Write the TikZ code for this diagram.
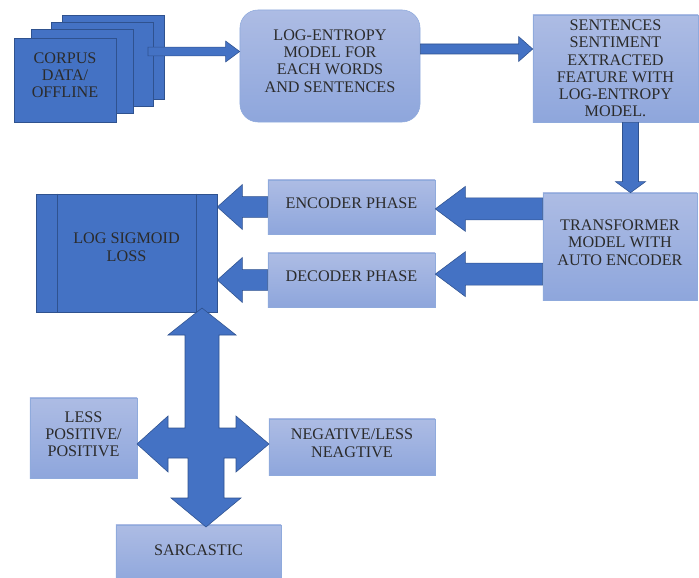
\documentclass[tikz,border=0pt]{standalone}
\usepackage{fontspec}
\setmainfont{Liberation Serif}
\usetikzlibrary{calc,positioning}

\definecolor{darkfill}{HTML}{4472C4}
\definecolor{darkedge}{HTML}{2F528F}
\definecolor{lighttop}{HTML}{ADBCE4}
\definecolor{lightbot}{HTML}{8EA6DC}
\definecolor{lightedge}{HTML}{8FAADC}
\definecolor{txtgray}{HTML}{2B2B2B}

\newcommand{\boxfont}{\fontsize{11.5}{12.3}\selectfont}

\tikzset{
  sheet/.style={draw=darkedge, fill=darkfill, minimum width=2.55cm, minimum height=2.1cm,
    text=txtgray, align=center, font=\boxfont},
  lightbox/.style={draw=lightedge, top color=lighttop, bottom color=lightbot,
    text=txtgray, align=center, font=\boxfont},
  lossbox/.style={draw=darkedge, fill=darkfill, text=txtgray, align=center, font=\boxfont},
  barrow/.style={draw=darkedge, fill=darkfill, line join=miter},
}

% block arrow: start, end, shaft half width, head half width, head length
\newcommand{\blockarrow}[5]{%
  \coordinate (ba-h) at ($(#2)!#5!(#1)$);
  \filldraw[barrow] ($(#1)!#3!90:(#2)$) -- ($(ba-h)!#3!90:(#2)$) -- ($(ba-h)!#4!90:(#2)$) -- (#2)
    -- ($(ba-h)!#4!-90:(#2)$) -- ($(ba-h)!#3!-90:(#2)$) -- ($(#1)!#3!-90:(#2)$) -- cycle;
}

\begin{document}
\begin{tikzpicture}[x=0.025cm, y=-0.025cm]
        \useasboundingbox (0,0) rectangle (699,578);

        % Corpus (stack of sheets)
        \node[sheet] (sheet3) at (113.5,57) {};
        \node[sheet] (sheet2) at (102.5,64) {};
        \node[sheet] (sheet1) at (82,71) {};
        \node[sheet, text depth=0.25cm] (corpus) at (65,80) {CORPUS\\DATA/\\OFFLINE};

        % Top row
        \node[lightbox, minimum width=4.5cm, minimum height=2.8cm, rounded corners=0.45cm,
          text depth=0.25cm] (logent) at (330,66) {LOG-ENTROPY\\MODEL FOR\\EACH WORDS\\AND SENTENCES};
        \node[lightbox, minimum width=4.125cm, minimum height=2.675cm, inner ysep=0pt]
          (sent) at (615.5,68.5) {SENTENCES\\SENTIMENT\\EXTRACTED\\FEATURE WITH\\LOG-ENTROPY\\MODEL.};

        % Middle row
        \node[lightbox, minimum width=3.85cm, minimum height=2.675cm, text depth=0.2cm]
          (trans) at (620,246.5) {TRANSFORMER\\MODEL WITH\\AUTO ENCODER};
        \node[lightbox, minimum width=4.175cm, minimum height=1.35cm, text depth=0.2cm]
          (enc) at (351.5,207) {ENCODER PHASE};
        \node[lightbox, minimum width=4.175cm, minimum height=1.35cm, text depth=0.2cm]
          (dec) at (351.5,280) {DECODER PHASE};
        \node[lossbox, minimum width=4.525cm, minimum height=2.95cm, text depth=0.3cm]
          (loss) at (126.5,253) {LOG SIGMOID\\LOSS};
        \draw[darkedge] ([xshift=0.55cm]loss.north west) -- ([xshift=0.55cm]loss.south west);
        \draw[darkedge] ([xshift=-0.525cm]loss.north east) -- ([xshift=-0.525cm]loss.south east);

        % Bottom row
        \node[lightbox, minimum width=2.675cm, minimum height=2cm, text depth=0.2cm]
          (lesspos) at (83.5,438) {LESS\\POSITIVE/\\POSITIVE};
        \node[lightbox, minimum width=4.15cm, minimum height=1.4cm, text depth=0.2cm]
          (neg) at (352,447) {NEGATIVE/LESS\\NEAGTIVE};
        \node[lightbox, minimum width=4.125cm, minimum height=1.5cm, text depth=0.25cm]
          (sarc) at (198.5,555) {SARCASTIC};

        % Arrow end points
        \coordinate (a1s) at (148,51.5);
        \coordinate (a1e) at (logent.west |- a1s);
        \coordinate (a2s) at ([yshift=0.425cm]logent.east);
        \coordinate (a2e) at (sent.west |- a2s);
        \coordinate (a3s) at ([xshift=0.375cm]sent.south);
        \coordinate (a3e) at (trans.north -| a3s);
        \coordinate (a4s) at ([yshift=0.94cm]trans.west);
        \coordinate (a4e) at (enc.east |- a4s);
        \coordinate (a5s) at ([yshift=-0.69cm]trans.west);
        \coordinate (a5e) at (dec.east |- a5s);
        \coordinate (a6e) at (loss.east |- enc.west);
        \coordinate (a7e) at (loss.east |- dec.west);

        % Block arrows
        \blockarrow{a1s}{a1e}{0.11cm}{0.26cm}{0.35cm}
        \blockarrow{a2s}{a2e}{0.125cm}{0.31cm}{0.35cm}
        \blockarrow{a3s}{a3e}{0.2cm}{0.375cm}{0.275cm}
        \blockarrow{a4s}{a4e}{0.275cm}{0.56cm}{0.75cm}
        \blockarrow{a5s}{a5e}{0.275cm}{0.56cm}{0.75cm}
        \blockarrow{enc.west}{a6e}{0.26cm}{0.56cm}{0.625cm}
        \blockarrow{dec.west}{a7e}{0.26cm}{0.56cm}{0.625cm}

        % Four way arrow
        \filldraw[barrow] (202,308) -- (236,335) -- (219,335) -- (219,428) -- (236,428) -- (236,416)
          -- (269,444) -- (236,472) -- (236,458) -- (224,458) -- (224,498) -- (241,498) -- (206,527)
          -- (171,498) -- (188,498) -- (188,458) -- (168,458) -- (168,472) -- (137,444) -- (168,416)
          -- (168,428) -- (185,428) -- (185,335) -- (168,335) -- cycle;
    \end{tikzpicture}
\end{document}
